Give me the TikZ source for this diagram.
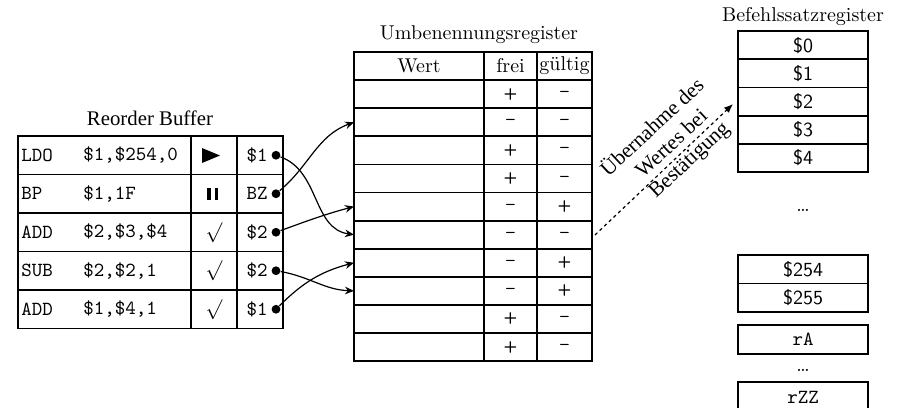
\documentclass[tikz,border=0pt]{standalone}
\usepackage{fontspec}
\newfontfamily\timesfont{Liberation Serif}
\usetikzlibrary{arrows.meta}
\begin{document}
\begin{tikzpicture}[x=0.5pt,y=-0.5pt,
  grid/.style={line width=0.9pt},
  ttx/.style={font=\ttfamily, inner sep=0pt},
  pm/.style={font=\sffamily\bfseries\fontsize{8}{9}\selectfont, inner sep=0pt},
  reg/.style={font=\sffamily, inner sep=0pt},
  dotn/.style={circle, fill, inner sep=0pt, minimum size=4.4pt},
  link/.style={line width=0.6pt, -{Stealth[length=4.5pt,width=3.8pt]}},
  commit/.style={line width=0.6pt, dash pattern=on 1.6pt off 1.6pt, -{Latex[length=4.5pt,width=3.6pt]}},
  diag/.style={rotate=43, inner sep=0pt, font=\timesfont\fontsize{10.6}{12.5}\selectfont},
  title/.style={inner sep=0pt}]
\useasboundingbox (0,0) rectangle (899,407);

% ---------- Reorder Buffer ----------
\node[title, font=\timesfont\fontsize{10.4}{12}\selectfont] (robt) at (150,118) {Reorder Buffer};
\draw[grid] (18,136) rectangle (283,328.5);
\foreach \y in {174.5,213,251.5,290} \draw[grid] (18,\y) -- (283,\y);
\foreach \x in {191,237} \draw[grid] (\x,136) -- (\x,328.5);

\node[ttx, anchor=west] (op1) at (21,155.25) {LDO};
\node[ttx, anchor=west] (op2) at (21,193.75) {BP};
\node[ttx, anchor=west] (op3) at (21,232.25) {ADD};
\node[ttx, anchor=west] (op4) at (21,270.75) {SUB};
\node[ttx, anchor=west] (op5) at (21,309.25) {ADD};

\node[ttx, anchor=west] (ar1) at (83,155.25) {\$1,\$254,0};
\node[ttx, anchor=west] (ar2) at (83,193.75) {\$1,1F};
\node[ttx, anchor=west] (ar3) at (83,232.25) {\$2,\$3,\$4};
\node[ttx, anchor=west] (ar4) at (83,270.75) {\$2,\$2,1};
\node[ttx, anchor=west] (ar5) at (83,309.25) {\$1,\$4,1};

% status symbols
\fill (202,148) -- (220,155.5) -- (202,163) -- cycle;
\fill (207,187.5) rectangle (210.5,200);
\fill (214.5,187.5) rectangle (218,200);
\node[inner sep=0pt] (s3) at (214,232.25) {$\surd$};
\node[inner sep=0pt] (s4) at (214,270.75) {$\surd$};
\node[inner sep=0pt] (s5) at (214,309.25) {$\surd$};

\node[ttx, anchor=east] (rg1) at (268,155.25) {\$1};
\node[ttx, anchor=east] (rg2) at (268,193.75) {BZ};
\node[ttx, anchor=east] (rg3) at (268,232.25) {\$2};
\node[ttx, anchor=east] (rg4) at (268,270.75) {\$2};
\node[ttx, anchor=east] (rg5) at (268,309.25) {\$1};

\node[dotn] (d1) at (276,155.25) {};
\node[dotn] (d2) at (276,193.75) {};
\node[dotn] (d3) at (276,232.25) {};
\node[dotn] (d4) at (276,270.75) {};
\node[dotn] (d5) at (276,309.25) {};

% ---------- Umbenennungsregister ----------
\node[title] (umt) at (479,35) {Umbenennungsregister};
\draw[grid] (354,52) rectangle (592,361);
\foreach \i in {1,...,10} \draw[grid] (354,{52+28.1*\i}) -- (592,{52+28.1*\i});
\foreach \x in {484,537} \draw[grid] (\x,52) -- (\x,361);
\node[title] (hw) at (419,66) {Wert};
\node[title] (hf) at (510.5,66) {frei};
\node[title] (hg) at (564.5,66) {gültig};

\foreach \i/\f/\g in {1/+/–,2/–/–,3/+/–,4/+/–,5/–/+,6/–/–,7/–/+,8/–/+,9/+/–,10/+/–}{
  \node[pm] (f\i) at (510.5,{52+28.1*(\i+0.5)}) {\f};
  \node[pm] (g\i) at (564.5,{52+28.1*(\i+0.5)}) {\g};
  \coordinate (w\i) at (354,{52+28.1*(\i+0.5)});
  \coordinate (e\i) at (592,{52+28.1*(\i+0.5)});
}

% ---------- Befehlssatzregister ----------
\node[title] (bst) at (803,17) {Befehlssatzregister};
\draw[grid] (738,31) rectangle (868,172);
\foreach \y in {59.2,87.4,115.6,143.8} \draw[grid] (738,\y) -- (868,\y);
\node[reg] (b0) at (803,45.1) {\$0};
\node[reg] (b1) at (803,73.3) {\$1};
\node[reg] (b2) at (803,101.5) {\$2};
\node[reg] (b3) at (803,129.7) {\$3};
\node[reg] (b4) at (803,157.9) {\$4};
\node[inner sep=0pt] (dt1) at (803,210) {\dots};
\draw[grid] (738,255) rectangle (868,312);
\draw[grid] (738,283.5) -- (868,283.5);
\node[reg] (b254) at (803,269.25) {\$254};
\node[reg] (b255) at (803,297.75) {\$255};
\draw[grid] (738,325) rectangle (868,354);
\node[ttx] (brA) at (803,339.5) {rA};
\node[inner sep=0pt] (dt2) at (803,370) {\dots};
\draw[grid] (738,382) rectangle (868,412);
\node[ttx] (brZZ) at (803,397) {rZZ};
\coordinate (b2in) at (733,104);

% ---------- connectors ----------
\draw[link] (d1) to[out=-20,in=172] (w6);
\draw[link] (d2) to[out=40,in=200] (w2);
\draw[link] (d3) to[out=20,in=195] (w5);
\draw[link] (d4) to[out=-10,in=178] (w8);
\draw[link] (d5) to[out=45,in=195] (w7);

\coordinate (cs) at (595,235);
\draw[commit] (cs) -- (b2in);
\node[diag] (txt1) at (651,126) {Übernahme des};
\node[diag] (txt2) at (671,143) {Wertes bei};
\node[diag] (txt3) at (690,161) {Bestätigung};
\end{tikzpicture}
\end{document}
